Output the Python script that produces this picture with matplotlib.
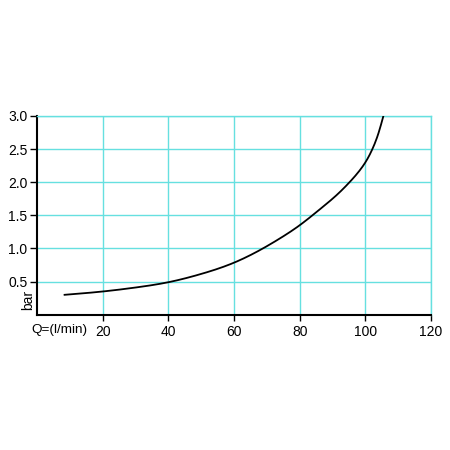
import matplotlib
matplotlib.use("Agg")
import matplotlib.pyplot as plt
import numpy as np

plt.rcParams['font.family'] = ['Liberation Sans', 'DejaVu Sans']

flow = [8.4, 20, 30, 40, 50, 60, 68, 74, 80, 86, 92, 95, 98, 100.5, 102.5, 104, 105.5]
pressure = [0.30, 0.35, 0.41, 0.49, 0.615, 0.785, 0.978, 1.152, 1.35, 1.585, 1.84, 1.99, 2.16, 2.34, 2.54, 2.74, 3.0]
xticks = [20, 40, 60, 80, 100, 120]
yticks = [0.5, 1.0, 1.5, 2.0, 2.5, 3.0]
ytick_labels = ["0.5", "1.0", "1.5", "2.0", "2.5", "3.0"]

grid_color = "#66e0e0"


def natural_spline(x, y, xn):
    x = np.asarray(x, float)
    y = np.asarray(y, float)
    n = len(x)
    h = np.diff(x)
    A = np.zeros((n, n))
    b = np.zeros(n)
    A[0, 0] = 1
    A[-1, -1] = 1
    for i in range(1, n - 1):
        A[i, i - 1] = h[i - 1]
        A[i, i] = 2 * (h[i - 1] + h[i])
        A[i, i + 1] = h[i]
        b[i] = 3 * ((y[i + 1] - y[i]) / h[i] - (y[i] - y[i - 1]) / h[i - 1])
    c = np.linalg.solve(A, b)
    bb = (y[1:] - y[:-1]) / h - h * (2 * c[:-1] + c[1:]) / 3
    d = (c[1:] - c[:-1]) / (3 * h)
    idx = np.clip(np.searchsorted(x, xn) - 1, 0, n - 2)
    t = xn - x[idx]
    return y[idx] + bb[idx] * t + c[idx] * t**2 + d[idx] * t**3


fig = plt.figure(figsize=(4.5, 4.5), dpi=100)
ax = fig.add_axes([0.0822, 0.3007, 0.8756, 0.4416])

xn = np.linspace(flow[0], flow[-1], 400)
yn = natural_spline(flow, pressure, xn)
ax.plot(xn, yn, color="black", lw=1.3, zorder=3)

ax.set_xlim(0, 120)
ax.set_ylim(0, 3.0)
ax.set_xticks(xticks)
ax.set_xticklabels([str(v) for v in xticks])
ax.set_yticks(yticks)
ax.set_yticklabels(ytick_labels)
ax.grid(True, color=grid_color, lw=1.0)
ax.set_axisbelow(True)

for s in ["top", "right"]:
    ax.spines[s].set_color(grid_color)
    ax.spines[s].set_linewidth(1.0)
for s in ["left", "bottom"]:
    ax.spines[s].set_color("black")
    ax.spines[s].set_linewidth(1.5)

ax.tick_params(axis="both", labelsize=10, colors="black", length=5, width=1, pad=2)
ax.tick_params(axis="x", length=4, pad=3.5)

ax.text(-0.004, 0.075, "bar", transform=ax.transAxes, rotation=90,
        ha="right", va="center", fontsize=10)
ax.text(-0.013, -0.077, "Q=(l/min)", transform=ax.transAxes,
        ha="left", va="center", fontsize=9.7)

fig.savefig("out.png", dpi=100)
